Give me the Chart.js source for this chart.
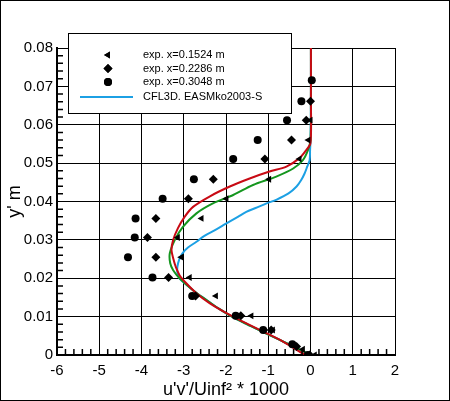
<!DOCTYPE html>
<html>
<head>
<meta charset="utf-8">
<script src="https://cdn.jsdelivr.net/npm/chart.js@4.4.1/dist/chart.umd.min.js"></script>
<style>
  html, body { margin: 0; padding: 0; background: #fff; }
  canvas { display: block; }
</style>
</head>
<body>
<canvas id="myChart" width="450" height="401"></canvas>
<script>
// experiment, x = 0.1524 m (left triangles)
var exp1524Y = [0.0612, 0.056, 0.0511, 0.0458, 0.0407, 0.0356, 0.0306, 0.0255, 0.0202, 0.0154, 0.0102, 0.0065, 0.0015, 0.0];
var exp1524X = [0.0, -0.05, -0.26, -0.98, -1.99, -2.58, -3.14, -3.06, -2.86, -2.24, -1.40, -0.89, -0.18, 0.1];
// experiment, x = 0.2286 m (diamonds)
var exp2286Y = [0.0661, 0.0612, 0.056, 0.0511, 0.0458, 0.0407, 0.0356, 0.0306, 0.0255, 0.0202, 0.0154, 0.0102, 0.0065, 0.0022, 0.0];
var exp2286X = [0.0, -0.10, -0.45, -1.08, -2.30, -2.89, -3.66, -3.86, -3.66, -3.36, -2.72, -1.65, -0.93, -0.33, -0.02];
// experiment, x = 0.3048 m (circles)
var exp3048Y = [0.0716, 0.0661, 0.0612, 0.056, 0.0511, 0.0458, 0.0407, 0.0356, 0.0306, 0.0255, 0.0202, 0.0154, 0.0102, 0.0065, 0.0028, 0.0];
var exp3048X = [0.03, -0.215, -0.556, -1.25, -1.83, -2.76, -3.50, -4.14, -4.16, -4.32, -3.74, -2.80, -1.77, -1.12, -0.43, -0.06];

// CFL3D EASMko2003-S, three stations
var cyanY = [0.08, 0.066, 0.056, 0.0534, 0.0508, 0.049, 0.0473, 0.0456, 0.0439, 0.0421, 0.0405, 0.0395, 0.0383, 0.0373, 0.036, 0.0343, 0.0326, 0.031, 0.0295, 0.028, 0.0265, 0.0248, 0.023, 0.0215, 0.02, 0.0178, 0.016, 0.014, 0.012, 0.01, 0.008, 0.006, 0.004, 0.002, 0.0005, 0.0];
var cyanX = [0.01, 0.01, 0.0, -0.01, -0.02, -0.08, -0.14, -0.22, -0.33, -0.52, -0.80, -1.04, -1.30, -1.52, -1.72, -1.99, -2.25, -2.52, -2.70, -2.90, -3.03, -3.11, -3.15, -3.15, -3.10, -2.88, -2.68, -2.42, -2.16, -1.86, -1.50, -1.12, -0.74, -0.37, -0.08, 0.0];
var greenY = [0.08, 0.066, 0.056, 0.0534, 0.0508, 0.0486, 0.0465, 0.0443, 0.0417, 0.0395, 0.0369, 0.0334, 0.03, 0.0265, 0.0239, 0.0221, 0.02, 0.0178, 0.016, 0.014, 0.012, 0.01, 0.008, 0.006, 0.004, 0.002, 0.0005, 0.0];
var greenX = [0.01, 0.01, 0.0, -0.06, -0.18, -0.41, -0.81, -1.36, -1.83, -2.31, -2.70, -3.02, -3.21, -3.33, -3.32, -3.25, -3.10, -2.88, -2.68, -2.42, -2.16, -1.86, -1.50, -1.12, -0.74, -0.37, -0.08, 0.0];
var redY = [0.08, 0.0664, 0.0552, 0.0534, 0.0513, 0.0491, 0.0478, 0.046, 0.0439, 0.0413, 0.0386, 0.036, 0.033, 0.03, 0.0274, 0.0248, 0.023, 0.0208, 0.0187, 0.0161, 0.0135, 0.0109, 0.0087, 0.0061, 0.0035, 0.0004, 0.0];
var redX = [0.01, 0.01, 0.0, -0.10, -0.26, -0.57, -0.97, -1.44, -1.91, -2.39, -2.78, -2.98, -3.14, -3.25, -3.29, -3.24, -3.19, -3.10, -2.94, -2.70, -2.39, -1.99, -1.60, -1.12, -0.65, -0.18, -0.06];

var xTicks = [-6, -5, -4, -3, -2, -1, 0, 1, 2];

function pts(xs, ys) {
  return xs.map(function (x, i) { return { x: x, y: ys[i] }; });
}

var FONT = '"Liberation Sans", Arial, sans-serif';

// minor ticks, legend box and outer frame
var decorations = {
  id: 'decorations',
  afterDraw: function (chart) {
    var ctx = chart.ctx;
    var xs = chart.scales.x, ys = chart.scales.y;
    var area = chart.chartArea;
    ctx.save();
    ctx.strokeStyle = '#000';
    ctx.lineWidth = 1.5;
    ctx.beginPath();
    for (var i = -30; i <= 10; i++) {
      if (i % 5 === 0) continue;
      var px = xs.getPixelForValue(i / 5);
      ctx.moveTo(px, area.bottom);
      ctx.lineTo(px, area.bottom - 6);
    }
    for (var j = 0; j <= 40; j++) {
      if (j % 5 === 0) continue;
      var py = ys.getPixelForValue(j * 0.002);
      ctx.moveTo(area.left, py);
      ctx.lineTo(area.left + 6, py);
    }
    ctx.stroke();

    // legend
    ctx.fillStyle = '#fff';
    ctx.fillRect(68, 33, 224, 80);
    ctx.lineWidth = 1;
    ctx.strokeRect(68.5, 33.5, 223, 80);
    ctx.font = '11px ' + FONT;
    ctx.textBaseline = 'middle';
    ctx.textAlign = 'left';
    var rows = [55, 68.5, 82, 97];
    chart.data.datasets.forEach(function (ds, k) {
      if (ds.legendRow === undefined) return;
      var ry = rows[ds.legendRow];
      ctx.fillStyle = '#000';
      if (ds.showLine) {
        ctx.strokeStyle = ds.borderColor;
        ctx.lineWidth = 2;
        ctx.beginPath();
        ctx.moveTo(80, ry);
        ctx.lineTo(133, ry);
        ctx.stroke();
      } else {
        Chart.helpers.drawPoint(ctx, {
          pointStyle: ds.pointStyle,
          radius: ds.pointRadius,
          rotation: ds.rotation || 0,
          borderWidth: 0
        }, 108, ry);
        ctx.fill();
      }
      ctx.fillStyle = '#000';
      ctx.fillText(ds.label, 143, ry);
    });

    ctx.strokeStyle = '#000';
    ctx.lineWidth = 1;
    ctx.strokeRect(0.5, 0.5, chart.width - 1, chart.height - 1);
    ctx.restore();
  }
};

var ctx = document.getElementById('myChart');

var myChart = new Chart(ctx, {
  type: 'scatter',
  data: {
    datasets: [{
      label: 'exp. x=0.1524 m',
      data: pts(exp1524X, exp1524Y),
      pointStyle: 'triangle',
      rotation: -90,
      pointRadius: 4,
      backgroundColor: '#000',
      borderColor: '#000',
      borderWidth: 0,
      order: 0,
      legendRow: 0
    }, {
      label: 'exp. x=0.2286 m',
      data: pts(exp2286X, exp2286Y),
      pointStyle: 'rectRot',
      pointRadius: 4.5,
      backgroundColor: '#000',
      borderColor: '#000',
      borderWidth: 0,
      order: 0,
      legendRow: 1
    }, {
      label: 'exp. x=0.3048 m',
      data: pts(exp3048X, exp3048Y),
      pointStyle: 'circle',
      pointRadius: 4,
      backgroundColor: '#000',
      borderColor: '#000',
      borderWidth: 0,
      order: 0,
      legendRow: 2
    }, {
      label: 'CFL3D. EASMko2003-S',
      data: pts(cyanX, cyanY),
      showLine: true,
      pointRadius: 0,
      borderColor: 'rgb(28,160,228)',
      borderWidth: 2,
      tension: 0.3,
      order: 3,
      legendRow: 3
    }, {
      label: 'green',
      data: pts(greenX, greenY),
      showLine: true,
      pointRadius: 0,
      borderColor: 'rgb(20,150,30)',
      borderWidth: 2,
      tension: 0.3,
      order: 2
    }, {
      label: 'red',
      data: pts(redX, redY),
      showLine: true,
      pointRadius: 0,
      borderColor: 'rgb(200,10,20)',
      borderWidth: 2,
      tension: 0.3,
      order: 1
    }]
  },
  options: {
    responsive: false,
    animation: false,
    devicePixelRatio: 1,
    layout: { padding: { left: 0, top: 48, right: 55, bottom: 0 } },
    plugins: {
      legend: { display: false },
      tooltip: { enabled: false }
    },
    scales: {
      x: {
        type: 'linear',
        min: -6,
        max: 2,
        afterBuildTicks: function (scale) {
          scale.ticks = xTicks.map(function (v) { return { value: v }; });
        },
        afterFit: function (scale) { scale.height = 46; },
        grid: { color: '#000', lineWidth: 1, drawTicks: false },
        border: { color: '#000', width: 2 },
        ticks: {
          color: '#000',
          padding: 7,
          font: { family: FONT, size: 15 },
          callback: function (v) { return String(v); }
        },
        title: {
          display: true,
          text: "u'v'/Uinf² * 1000",
          color: '#000',
          padding: { top: 0, bottom: 0 },
          font: { family: FONT, size: 18 }
        }
      },
      y: {
        type: 'linear',
        min: 0,
        max: 0.08,
        ticks: {
          stepSize: 0.01,
          color: '#000',
          padding: 4,
          font: { family: FONT, size: 15 },
          callback: function (v) { return v === 0 ? '0' : v.toFixed(2); }
        },
        afterFit: function (scale) { scale.width = 57; },
        grid: { color: '#000', lineWidth: 1, drawTicks: false },
        border: { color: '#000', width: 2 },
        title: {
          display: true,
          text: "y' m",
          color: '#000',
          padding: { top: 4, bottom: 0 },
          font: { family: FONT, size: 18 }
        }
      }
    }
  },
  plugins: [decorations]
});
</script>
</body>
</html>
